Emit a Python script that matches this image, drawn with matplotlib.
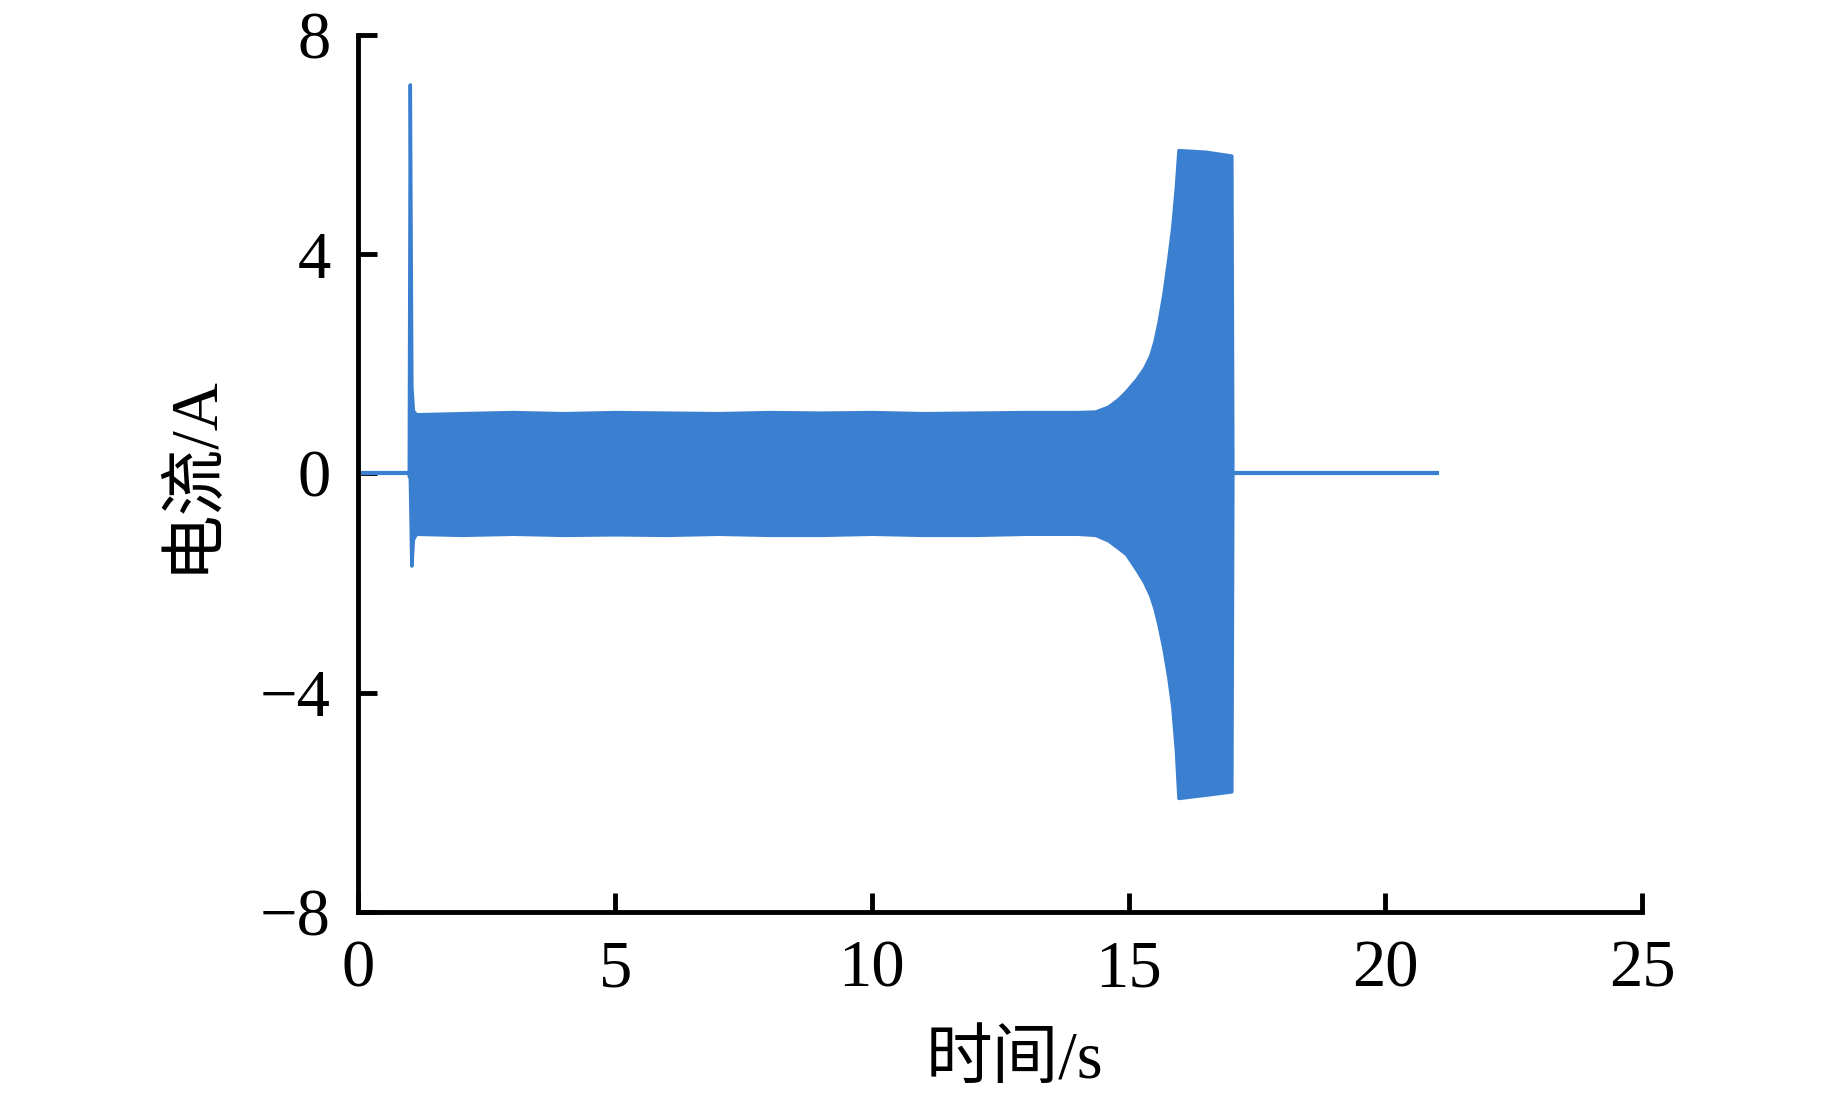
import matplotlib
matplotlib.use('Agg')
import matplotlib.pyplot as plt

# %% data
# quiet baseline before switching on and after switching off
t_pre = [0.0, 1.0]
i_pre = [0.0, 0.0]
t_post = [17.0, 21.0]
i_post = [0.0, 0.0]

# envelope of the oscillating current (upper / lower edge)
t_env = [0.98, 1.00, 1.03, 1.06, 1.12, 2.0, 3.0, 4.0, 5.0, 6.0, 7.0, 8.0, 9.0,
         10.0, 11.0, 12.0, 13.0, 14.0, 14.35, 14.6, 14.8, 14.95, 15.15, 15.3,
         15.42, 15.5, 15.58, 15.68, 15.77, 15.85, 15.92, 15.97, 16.5, 17.0, 17.02]
i_upper = [0.05, 7.1, 1.6, 1.15, 1.08, 1.1, 1.12, 1.1, 1.12, 1.11, 1.1, 1.12,
           1.11, 1.12, 1.1, 1.11, 1.12, 1.12, 1.13, 1.22, 1.36, 1.5, 1.72, 1.92,
           2.15, 2.4, 2.75, 3.29, 3.9, 4.5, 5.23, 5.9, 5.87, 5.8, 0.05]
i_lower = [-0.05, -0.05, -1.68, -1.2, -1.1, -1.12, -1.1, -1.12, -1.11, -1.12,
           -1.1, -1.12, -1.12, -1.1, -1.12, -1.12, -1.1, -1.1, -1.12, -1.22,
           -1.36, -1.47, -1.75, -1.98, -2.22, -2.45, -2.75, -3.2, -3.7, -4.25,
           -5.05, -5.92, -5.86, -5.8, -0.05]

x_ticks = [0, 5, 10, 15, 20, 25]
y_ticks = [-8, -4, 0, 4, 8]
color = '#3b80d0'

# %% plot
plt.rcParams['font.family'] = ['Liberation Serif', 'Noto Sans CJK SC']
plt.rcParams['axes.unicode_minus'] = True

fig = plt.figure(figsize=(18.43, 10.94), dpi=100)
ax = fig.add_axes([0.1945, 0.1664, 0.6965, 0.8016])

ax.plot(t_pre, i_pre, color=color, lw=3)
ax.plot(t_post, i_post, color=color, lw=3)
ax.fill_between(t_env, i_lower, i_upper, color=color, lw=2.5, edgecolor=color)

ax.set_xlim(0, 25)
ax.set_ylim(-8, 8)
ax.set_xticks(x_ticks)
ax.set_yticks(y_ticks)
ax.spines[['top', 'right']].set_visible(False)
for s in ['left', 'bottom']:
    ax.spines[s].set_linewidth(3.5)
ax.tick_params(direction='in', length=14, width=3.5, labelsize=48)
ax.tick_params(axis='x', pad=20)
ax.tick_params(axis='y', pad=20)

ax.set_xlabel('时间/s', fontsize=48, labelpad=22)
ax.xaxis.label.set_x(0.511)
ax.set_ylabel('电流/A', fontsize=48, labelpad=26)

fig.savefig('out.png', dpi=100)
